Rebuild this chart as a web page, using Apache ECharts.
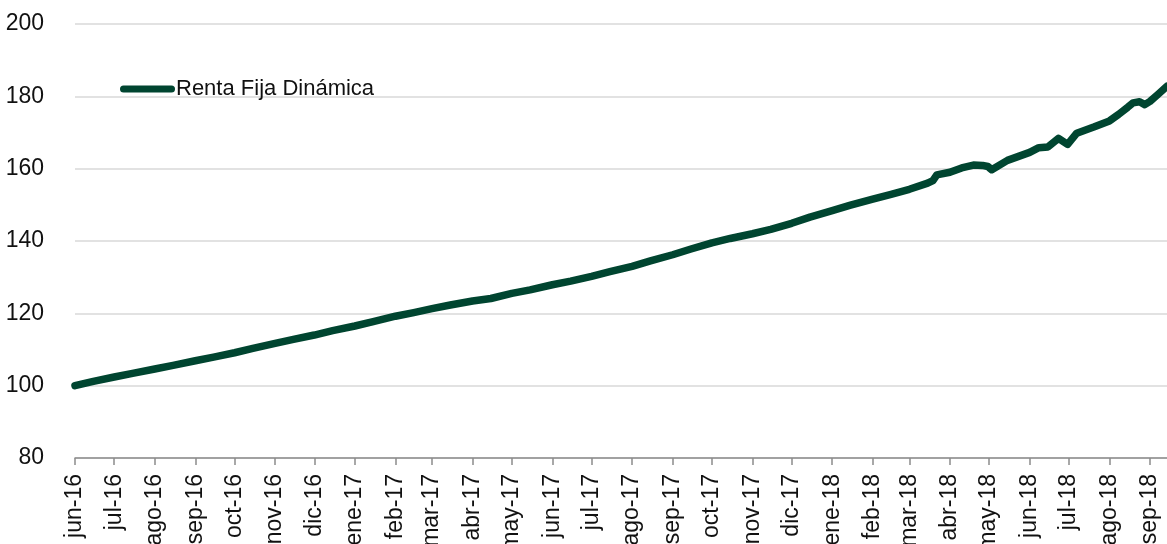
<!DOCTYPE html>
<html>
<head>
<meta charset="utf-8">
<script src="https://cdn.jsdelivr.net/npm/echarts@6/dist/echarts.min.js"></script>
<style>
html,body{margin:0;padding:0;background:#fff;}
#chart{width:1167px;height:544px;}
</style>
</head>
<body>
<div id="chart"></div>
<script>
// ---- data ----
const seriesName = 'Renta Fija Dinámica';
const monthLabels = ['jun-16','jul-16','ago-16','sep-16','oct-16','nov-16','dic-16','ene-17','feb-17','mar-17','abr-17','may-17','jun-17','jul-17','ago-17','sep-17','oct-17','nov-17','dic-17','ene-18','feb-18','mar-18','abr-18','may-18','jun-18','jul-18','ago-18','sep-18'];
const dates = ['2016-06-01','2016-06-15','2016-07-01','2016-07-15','2016-08-01','2016-08-15','2016-09-01','2016-09-15','2016-10-01','2016-10-15','2016-11-01','2016-11-15','2016-12-01','2016-12-15','2017-01-01','2017-01-15','2017-02-01','2017-02-15','2017-03-01','2017-03-15','2017-04-01','2017-04-15','2017-05-01','2017-05-15','2017-06-01','2017-06-15','2017-07-01','2017-07-15','2017-08-01','2017-08-15','2017-09-01','2017-09-15','2017-10-01','2017-10-15','2017-11-01','2017-11-15','2017-12-01','2017-12-15','2018-01-01','2018-01-15','2018-02-01','2018-02-15','2018-03-01','2018-03-15','2018-03-19','2018-03-22','2018-04-01','2018-04-10','2018-04-19','2018-04-26','2018-04-30','2018-05-03','2018-05-15','2018-06-01','2018-06-08','2018-06-15','2018-06-23','2018-06-30','2018-07-07','2018-07-20','2018-08-01','2018-08-08','2018-08-15','2018-08-19','2018-08-24','2018-08-28','2018-09-01','2018-09-07','2018-09-14'];
const values = [100.0,101.2,102.4,103.4,104.6,105.6,106.9,107.9,109.1,110.3,111.7,112.8,114.0,115.2,116.5,117.7,119.2,120.2,121.3,122.3,123.4,124.1,125.5,126.5,127.9,128.9,130.2,131.5,133.0,134.5,136.2,137.8,139.5,140.7,142.0,143.2,144.9,146.6,148.4,149.9,151.6,152.9,154.3,156.0,156.7,158.3,159.0,160.2,161.0,160.9,160.6,159.7,162.3,164.5,165.8,166.0,168.4,166.7,169.8,171.5,173.2,175.0,177.0,178.2,178.5,177.7,178.6,180.5,182.8];
const startDate = '2016-06-01';
const endDate = '2018-09-14';

// ---- helpers ----
function dayIndex(s){
  const p = s.split('-').map(Number);
  const b = startDate.split('-').map(Number);
  return Math.round((Date.UTC(p[0],p[1]-1,p[2]) - Date.UTC(b[0],b[1]-1,b[2]))/86400000);
}
const monthStarts = monthLabels.map((_, i) => {
  const d = new Date(Date.UTC(2016, 5 + i, 1));
  return dayIndex(d.toISOString().slice(0,10));
});
const seriesData = dates.map((d, i) => [dayIndex(d), values[i]]);

const FONT = "'Liberation Sans',Arial,sans-serif";

const chart = echarts.init(document.getElementById('chart'));
chart.setOption({
  animation: false,
  backgroundColor: '#ffffff',
  grid: { left: 75, right: 0, top: 24, bottom: 86, containLabel: false, outerBoundsMode: 'none' },
  legend: {
    left: 115, top: 73,
    itemWidth: 55, itemHeight: 7, itemGap: 10,
    data: [{ name: seriesName, icon: 'path://M3.5,0H51.5A3.5,3.5,0,0,1,51.5,7H3.5A3.5,3.5,0,0,1,3.5,0Z' }],
    textStyle: { fontFamily: FONT, fontSize: 22, color: '#111', padding: [0,0,0,-4] }
  },
  xAxis: {
    type: 'value',
    min: 0,
    max: dayIndex(endDate),
    axisLine: { show: true, lineStyle: { color: '#8c8c8c', width: 1.5 } },
    axisTick: { show: true, length: 7, lineStyle: { color: '#8c8c8c', width: 1.5 }, customValues: monthStarts },
    axisLabel: {
      customValues: monthStarts,
      rotate: 90,
      margin: 16,
      fontFamily: FONT, fontSize: 23, color: '#111',
      formatter: v => { const i = monthStarts.indexOf(v); return i >= 0 ? monthLabels[i] : ''; }
    },
    splitLine: { show: false }
  },
  yAxis: {
    type: 'value',
    min: 80, max: 200, interval: 20,
    axisLine: { show: false },
    axisTick: { show: false },
    axisLabel: { margin: 31, fontFamily: FONT, fontSize: 23, color: '#111' },
    splitLine: { show: true, lineStyle: { color: '#d9d9d9', width: 1.5 } }
  },
  series: [{
    name: seriesName,
    type: 'line',
    data: seriesData,
    showSymbol: false,
    symbol: 'none',
    color: '#004530',
    lineStyle: { color: '#004530', width: 7.5, cap: 'round', join: 'round' },
    clip: false
  }]
});
</script>
</body>
</html>
